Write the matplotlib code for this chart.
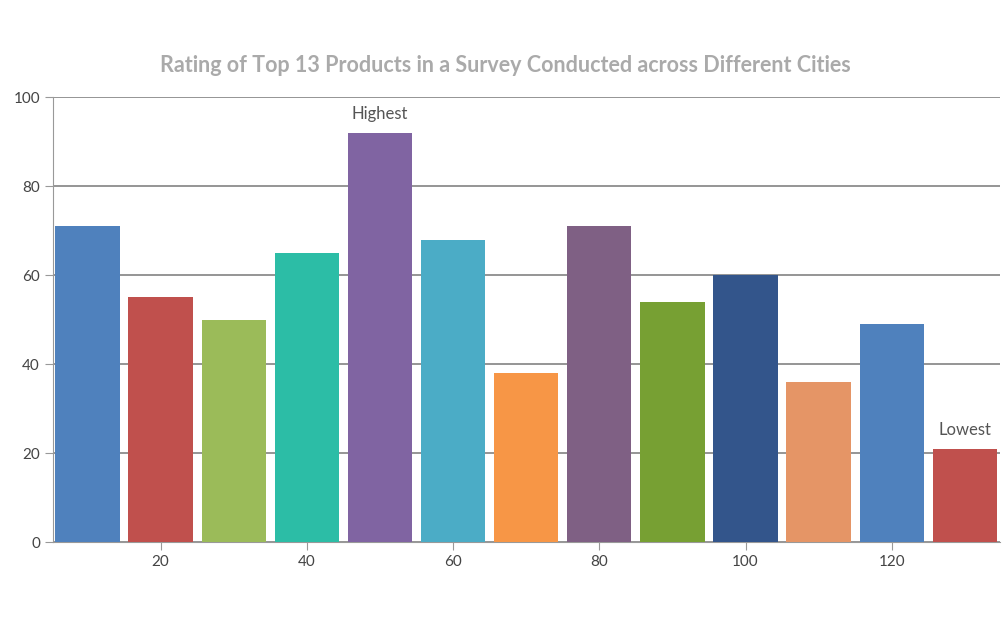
import matplotlib
matplotlib.use("Agg")
import matplotlib.pyplot as plt

x_vals = [10, 20, 30, 40, 50, 60, 70, 80, 90, 100, 110, 120, 130]
y_vals = [71, 55, 50, 65, 92, 68, 38, 71, 54, 60, 36, 49, 21]
colors = ["#4F81BD", "#C0504D", "#9BBB59", "#2CBDA6", "#8064A2", "#4BACC6",
          "#F79646", "#7F6084", "#77A033", "#33558B", "#E59566", "#4F81BD",
          "#C0504D"]
labels = {4: "Highest", 12: "Lowest"}
x_ticks = [20, 40, 60, 80, 100, 120]
y_ticks = [0, 20, 40, 60, 80, 100]
title = "Rating of Top 13 Products in a Survey Conducted across Different Cities"

plt.rcParams["font.family"] = ["Lato", "DejaVu Sans"]

fig = plt.figure(figsize=(10.02, 6.44), dpi=100)
ax = fig.add_axes([0.053, 0.158, 0.945, 0.691])

bars = ax.bar(x_vals, y_vals, width=8.8, color=colors, zorder=3)
for i, txt in labels.items():
    b = bars[i]
    ax.text(b.get_x() + b.get_width() / 2, b.get_height() + 2.5, txt,
            ha="center", va="bottom", fontsize=12, color="#555555")

ax.set_xlim(5.3, 134.8)
ax.set_ylim(0, 100)
ax.set_xticks(x_ticks)
ax.set_yticks(y_ticks)
ax.yaxis.grid(True, color="#8c8c8c", linewidth=1.3, zorder=0)
for s in ["top", "right"]:
    ax.spines[s].set_visible(False)
ax.spines["left"].set_color("#999999")
ax.spines["bottom"].set_color("#999999")
ax.tick_params(axis="both", colors="#999999", labelcolor="#444444",
               labelsize=11, length=6)
fig.text(0.504, 0.898, title, ha="center", va="center", fontsize=15.5,
         color="#aaaaaa", fontweight="bold")

fig.savefig("out.png")
